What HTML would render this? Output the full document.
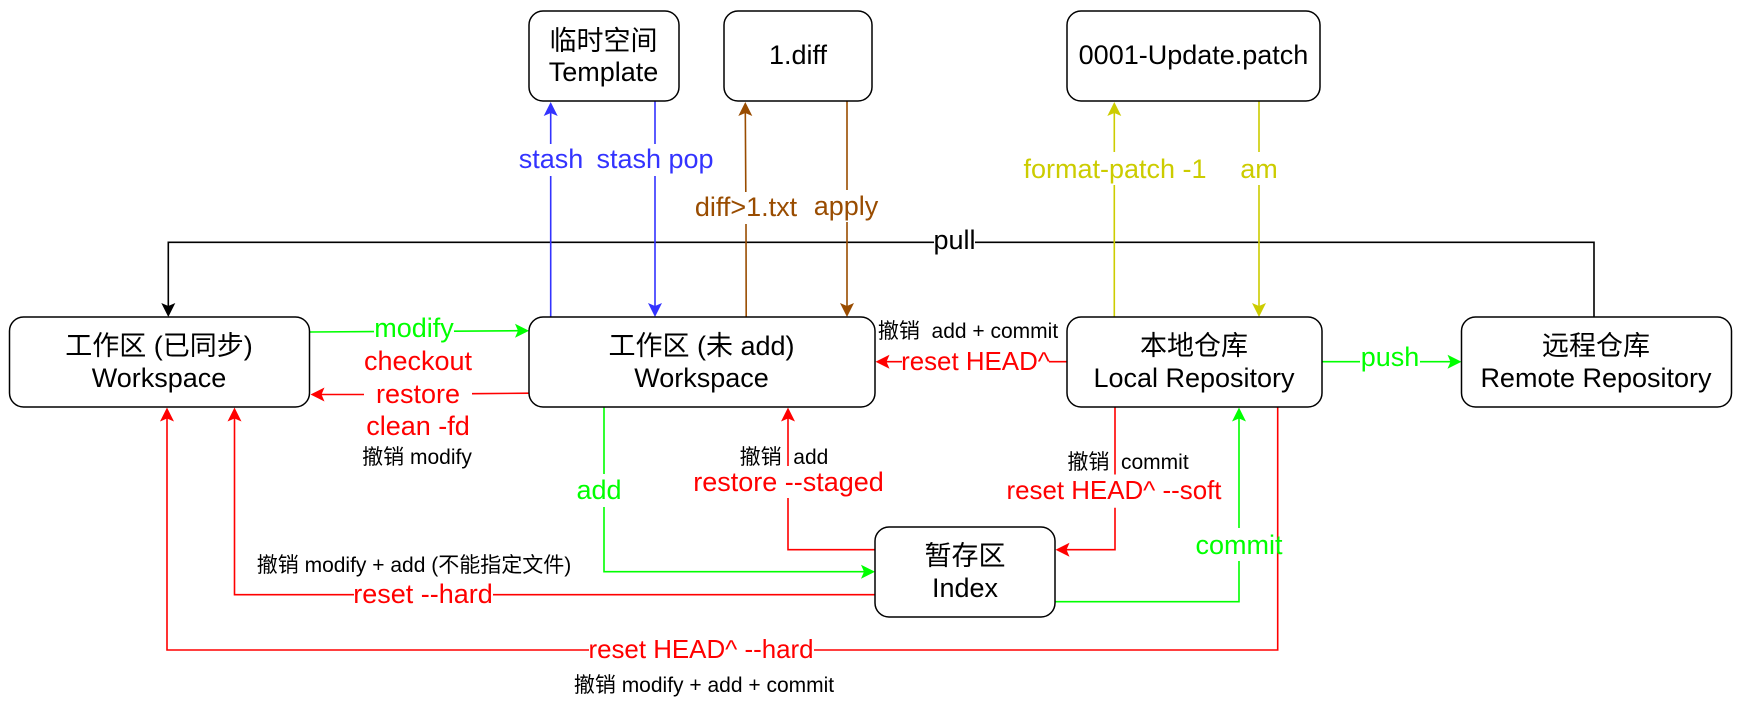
<!DOCTYPE html>
<html><head><meta charset="utf-8"><style>
html,body{margin:0;padding:0;background:#fff;width:1742px;height:702px;overflow:hidden}
svg{display:block}
text{font-family:"Liberation Sans","Noto Sans CJK SC",sans-serif;font-size:27px;text-anchor:middle}
.s{font-size:21px;fill:#000}
.h{font-size:25.9px}
.k{fill:#000}.r{fill:#f00}.g{fill:#0f0}.b{fill:#33f}.n{fill:#994c00}.y{fill:#cc0}
.l{fill:none;stroke-width:1.6}
.box{fill:#fff;stroke:#000;stroke-width:1.5}
</style></head><body>
<svg width="1742" height="702" viewBox="0 0 1742 702" xmlns="http://www.w3.org/2000/svg">
<defs>
<path id="a" d="M0 0L7 14L0 11L-7 14Z"/>
</defs>

<!-- pull -->
<path class="l" stroke="#000" d="M1594 317V242.3H975M934 242.3H168.3V306"/>
<use href="#a" fill="#000" transform="translate(168.3 317) rotate(180)"/>

<!-- stash -->
<path class="l" stroke="#33f" d="M550.7 317V176M550.7 144V110"/>
<use href="#a" fill="#33f" transform="translate(550.7 102)"/>
<path class="l" stroke="#33f" d="M655 101V144M655 176V306"/>
<use href="#a" fill="#33f" transform="translate(655 317) rotate(180)"/>

<!-- diff -->
<path class="l" stroke="#994c00" d="M746.2 317L746 224M745.8 192L745.3 110"/>
<use href="#a" fill="#994c00" transform="translate(745.3 102)"/>
<path class="l" stroke="#994c00" d="M847 101V190M847 222V306"/>
<use href="#a" fill="#994c00" transform="translate(847 317) rotate(180)"/>

<!-- patch -->
<path class="l" stroke="#cc0" d="M1114.3 317V185M1114.3 152V110"/>
<use href="#a" fill="#cc0" transform="translate(1114.3 102)"/>
<path class="l" stroke="#cc0" d="M1259 101V152M1259 185V306"/>
<use href="#a" fill="#cc0" transform="translate(1259 317) rotate(180)"/>

<!-- modify -->
<path class="l" stroke="#0f0" d="M309.5 332L374 331.6M454 331.2L520 330.7"/>
<use href="#a" fill="#0f0" transform="translate(529 330.7) rotate(90)"/>

<!-- restore -->
<path class="l" stroke="#f00" d="M529 393.2L472 393.7M364 394.5H320"/>
<use href="#a" fill="#f00" transform="translate(310.5 394.5) rotate(-90)"/>

<!-- add -->
<path class="l" stroke="#0f0" d="M604 407V474M604 507V571.7H866"/>
<use href="#a" fill="#0f0" transform="translate(875 571.7) rotate(90)"/>

<!-- restore staged -->
<path class="l" stroke="#f00" d="M875 549.7H788V498M788 466V416"/>
<use href="#a" fill="#f00" transform="translate(788 407.5)"/>

<!-- reset hard -->
<path class="l" stroke="#f00" d="M875 594.7H493M354 594.7H234.5V416"/>
<use href="#a" fill="#f00" transform="translate(234.5 407.5)"/>

<!-- reset HEAD hard -->
<path class="l" stroke="#f00" d="M1277.7 407V650H814M589 650H167V416"/>
<use href="#a" fill="#f00" transform="translate(167 407.5)"/>

<!-- reset HEAD -->
<path class="l" stroke="#f00" d="M1067 361.7H1049M902 361.7H885"/>
<use href="#a" fill="#f00" transform="translate(875.5 361.7) rotate(-90)"/>

<!-- soft -->
<path class="l" stroke="#f00" d="M1115 407V474.5M1115 507.7V549.7H1065"/>
<use href="#a" fill="#f00" transform="translate(1055.5 549.7) rotate(-90)"/>

<!-- commit -->
<path class="l" stroke="#0f0" d="M1055 601.7H1239V561M1239 528V416"/>
<use href="#a" fill="#0f0" transform="translate(1239 407.5)"/>

<!-- push -->
<path class="l" stroke="#0f0" d="M1322 361.7H1360M1420 361.7H1452"/>
<use href="#a" fill="#0f0" transform="translate(1461.5 361.7) rotate(90)"/>

<!-- boxes -->
<rect class="box" x="529" y="11" width="150" height="90" rx="14"/>
<rect class="box" x="724" y="11" width="148" height="90" rx="14"/>
<rect class="box" x="1067" y="11" width="253" height="90" rx="14"/>
<rect class="box" x="9.5" y="317" width="300" height="90" rx="14"/>
<rect class="box" x="529" y="317" width="346" height="90" rx="14"/>
<rect class="box" x="1067" y="317" width="255" height="90" rx="14"/>
<rect class="box" x="1461.5" y="317" width="270" height="90" rx="14"/>
<rect class="box" x="875" y="527" width="180" height="90" rx="14"/>

<text class="k" x="603.5" y="50">临时空间</text>
<text class="k" x="603.5" y="81">Template</text>
<text class="k" x="798" y="64">1.diff</text>
<text class="k" x="1193.5" y="64">0001-Update.patch</text>
<text class="k" x="159" y="355">工作区 (已同步)</text>
<text class="k" x="159" y="387">Workspace</text>
<text class="k" x="701.5" y="355">工作区 (未 add)</text>
<text class="k" x="701.5" y="387">Workspace</text>
<text class="k" x="1194" y="355">本地仓库</text>
<text class="k" x="1194" y="387">Local Repository</text>
<text class="k" x="1596" y="355">远程仓库</text>
<text class="k" x="1596" y="387">Remote Repository</text>
<text class="k" x="965" y="565">暂存区</text>
<text class="k" x="965" y="597">Index</text>

<text class="k" x="954.5" y="249">pull</text>
<text class="b" x="551" y="168">stash</text>
<text class="b" x="655" y="168">stash pop</text>
<text class="n" x="746" y="216">diff&gt;1.txt</text>
<text class="n" x="846" y="215">apply</text>
<text class="y" x="1115" y="178">format-patch -1</text>
<text class="y" x="1259" y="178">am</text>
<text class="g" x="414" y="337">modify</text>
<text class="r" x="418" y="370">checkout</text>
<text class="r" x="418" y="403">restore</text>
<text class="r" x="418" y="435">clean -fd</text>
<text class="s" x="417" y="464">撤销 modify</text>
<text class="g" x="599" y="499">add</text>
<text class="s" x="784" y="464">撤销&#160;&#160;add</text>
<text class="r" x="788.5" y="491">restore --staged</text>
<text class="s" x="414" y="572">撤销 modify + add (不能指定文件)</text>
<text class="r" x="423" y="603">reset --hard</text>
<text class="r h" x="701" y="658">reset HEAD^ --hard</text>
<text class="s" x="704" y="692">撤销 modify + add + commit</text>
<text class="r h" x="975.5" y="370">reset HEAD^</text>
<text class="s" x="968" y="338">撤销&#160; add + commit</text>
<text class="s" x="1128" y="469">撤销&#160;&#160;commit</text>
<text class="r h" x="1114" y="499">reset HEAD^ --soft</text>
<text class="g" x="1239" y="554">commit</text>
<text class="g" x="1390" y="366">push</text>
</svg>
</body></html>
